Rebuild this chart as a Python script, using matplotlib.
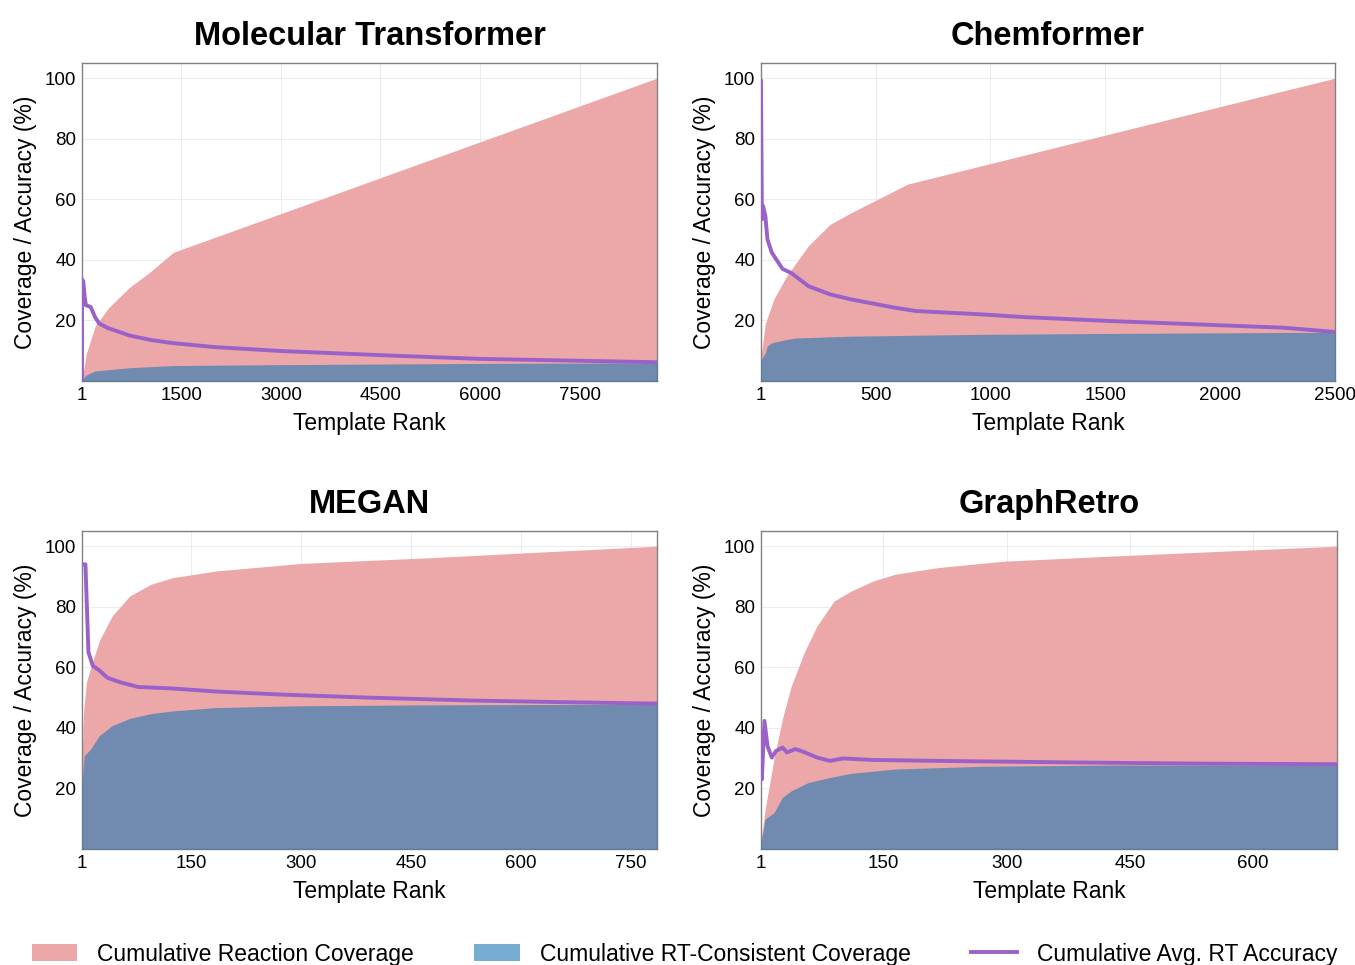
import matplotlib
matplotlib.use('Agg')
import matplotlib.pyplot as plt
from matplotlib.patches import Patch
from matplotlib.lines import Line2D

plt.rcParams['font.family'] = ['Liberation Sans', 'DejaVu Sans']

# ---------------- data ----------------
# Molecular Transformer
mt_cov_x = [1, 66, 197, 394, 721, 1000, 1380, 8668]
mt_cov_y = [0.5, 9, 18, 24, 31, 35.5, 42.5, 100]
mt_rt_x = [1, 66, 197, 721, 1375, 3000, 6000, 8668]
mt_rt_y = [0.5, 2, 3.3, 4.4, 5.1, 5.4, 5.8, 6.0]
mt_acc_x = [1, 1, 20, 40, 60, 130, 200, 260, 390, 720, 1050, 1375, 2000, 3000, 4650, 6000, 8668]
mt_acc_y = [0, 33.5, 33, 28, 25, 24.5, 21, 19, 17.5, 15, 13.5, 12.5, 11.2, 9.9, 8.4, 7.3, 6.2]

# Chemformer
cf_cov_x = [1, 20, 57, 113, 207, 301, 395, 639, 2500]
cf_cov_y = [8, 19, 27, 34.7, 44.6, 51.7, 55.6, 65, 100]
cf_rt_x = [1, 20, 28, 47, 113, 150, 395, 958, 1522, 2500]
cf_rt_y = [7, 9.3, 11.5, 12.6, 13.7, 14.2, 14.8, 15.4, 15.7, 16.1]
cf_acc_x = [1, 5, 10, 20, 29, 48, 67, 95, 132, 208, 302, 396, 584, 677, 959, 1147, 1523, 1899, 2275, 2500]
cf_acc_y = [99, 53.4, 57.8, 54.5, 46.8, 42.4, 40.2, 37, 35.7, 31.3, 28.6, 26.9, 24.2, 23.1, 22, 21.1, 19.8, 18.7, 17.6, 16.2]

# MEGAN
mg_cov_x = [1, 3, 7, 13, 24.5, 42, 66, 95, 125, 184, 301, 478, 786]
mg_cov_y = [28, 45, 55, 60, 68.7, 76.9, 83.5, 87.4, 89.6, 91.8, 94.3, 96.2, 100]
mg_rt_x = [1, 4, 12.8, 24.5, 42, 66, 95, 125, 184, 301, 478, 786]
mg_rt_y = [21, 30.8, 33, 37.4, 40.7, 43.1, 44.7, 45.6, 46.7, 47.3, 47.6, 47.8]
mg_acc_x = [1, 5.7, 9.8, 15.7, 24.5, 36, 54, 77.6, 125, 184, 272, 390, 537, 654, 786]
mg_acc_y = [94, 94, 65, 60.5, 59, 56.5, 55, 53.5, 53, 52, 51, 50, 49, 48.5, 48]

# GraphRetro
gr_cov_x = [1, 6, 16.8, 27, 37.8, 53.5, 69, 90, 111, 137.6, 164, 216, 295, 427, 702]
gr_cov_y = [3, 13, 29.7, 42.9, 53.8, 64.8, 73.6, 81.9, 85.2, 88.5, 90.7, 92.9, 95, 96.7, 100]
gr_rt_x = [1, 6, 16.8, 27, 37.8, 58.8, 85, 111, 164, 269, 427, 702]
gr_rt_y = [2, 9.9, 12, 17, 19.2, 22, 23.6, 25, 26.4, 27.3, 27.7, 27.7]
gr_acc_x = [1, 2, 5.2, 8.9, 14.1, 19.4, 27.3, 32.5, 43, 53.5, 69.3, 85, 100.8, 137.6, 216, 374, 532, 702]
gr_acc_y = [38.5, 23, 42.3, 34, 30.2, 32.4, 33.5, 31.9, 33, 32, 30.2, 29.1, 29.9, 29.4, 29.1, 28.6, 28.2, 28]

titles = ['Molecular Transformer', 'Chemformer', 'MEGAN', 'GraphRetro']
xticks = [[1, 1500, 3000, 4500, 6000, 7500],
          [1, 500, 1000, 1500, 2000, 2500],
          [1, 150, 300, 450, 600, 750],
          [1, 150, 300, 450, 600]]
xmax = [8668, 2500, 786, 702]
legend_labels = ['Cumulative Reaction Coverage', 'Cumulative RT-Consistent Coverage',
                 'Cumulative Avg. RT Accuracy']

panels = [(mt_cov_x, mt_cov_y, mt_rt_x, mt_rt_y, mt_acc_x, mt_acc_y),
          (cf_cov_x, cf_cov_y, cf_rt_x, cf_rt_y, cf_acc_x, cf_acc_y),
          (mg_cov_x, mg_cov_y, mg_rt_x, mg_rt_y, mg_acc_x, mg_acc_y),
          (gr_cov_x, gr_cov_y, gr_rt_x, gr_rt_y, gr_acc_x, gr_acc_y)]

pink = '#ECA7A8'
blue = '#1f77b4'
purple = '#9a62c9'

# ---------------- figure ----------------
fig = plt.figure(figsize=(13.55, 9.65), dpi=100)
W, H = 1355, 965
boxes = [(82, 63, 657, 381), (761, 63, 1335, 381),
         (82, 531, 657, 849), (761, 531, 1337, 849)]

for i, (cx, cy, rx, ry, ax_, ay) in enumerate(panels):
    l, t, r, b = boxes[i]
    ax = fig.add_axes([l / W, 1 - b / H, (r - l) / W, (b - t) / H])
    ax.fill_between(cx, 0, cy, color=pink, lw=0, zorder=2)
    ax.fill_between(rx, 0, ry, color=blue, alpha=0.6, lw=0, zorder=3)
    ax.plot(ax_, ay, color=purple, lw=2.8, zorder=4, solid_joinstyle='round')
    ax.set_xlim(1, xmax[i])
    ax.set_ylim(0, 105)
    ax.set_xticks(xticks[i])
    ax.set_yticks([20, 40, 60, 80, 100])
    ax.tick_params(length=0, labelsize=13.5, pad=4)
    ax.grid(True, color='#ececec', lw=0.7)
    ax.set_axisbelow(True)
    for s in ax.spines.values():
        s.set_color('#808080')
        s.set_linewidth(1.0)
    ax.set_title(titles[i], fontsize=23.5, fontweight='bold', pad=13)
    ax.set_xlabel('Template Rank', fontsize=16.5, labelpad=6)
    ax.set_ylabel('Coverage / Accuracy (%)', fontsize=16.5, labelpad=6)

handles = [Patch(facecolor=pink, edgecolor='none'),
           Patch(facecolor=blue, alpha=0.6, edgecolor='none'),
           Line2D([0], [0], color=purple, lw=2.8)]
fig.legend(handles, legend_labels, loc='lower center', bbox_to_anchor=(0.505, -0.022),
           ncol=3, frameon=False, fontsize=16.5, handlelength=2.0, handleheight=0.8,
           columnspacing=2.65, handletextpad=0.85)

fig.savefig('out.png', dpi=100)
